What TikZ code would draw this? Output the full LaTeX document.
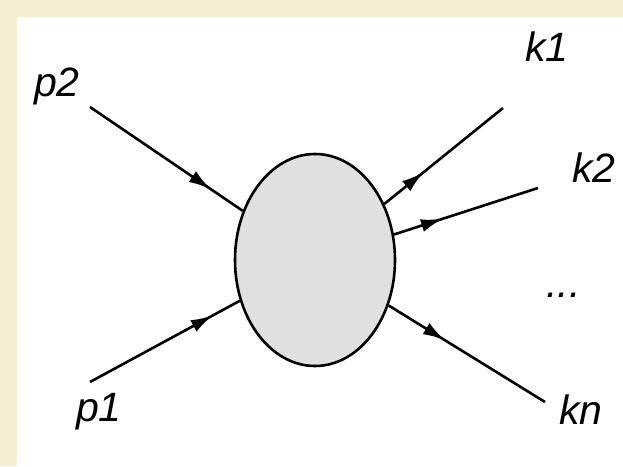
\documentclass[tikz,border=0pt]{standalone}
\usepackage{fontspec}
\setmainfont{Liberation Sans}
\usetikzlibrary{shapes.geometric,arrows.meta,decorations.markings}
\definecolor{slidebg}{RGB}{244,238,210}
\definecolor{blobfill}{RGB}{224,224,224}
\tikzset{
  leg/.style={line width=2.6pt},
  midarrow/.style={postaction={decorate},decoration={markings,
    mark=at position #1 with {\arrow{Latex[length=22pt,width=13pt]}}}},
  lbl/.style={font=\fontsize{41}{46}\selectfont\itshape,inner sep=0pt,anchor=base west},
}
\begin{document}
\begin{tikzpicture}[x=1pt,y=-1pt]
  % slide background and white panel
  \fill[slidebg] (0,0) rectangle (623,466);
  \fill[white] (17,17) rectangle (623,466);
  \useasboundingbox (0,0) rectangle (623,466);

  % interaction blob
  \node[ellipse,draw,line width=2.6pt,fill=blobfill,minimum width=160pt,
        minimum height=212pt,inner sep=0pt] (blob) at (315,260) {};

  % free ends of the external legs
  \coordinate (p2end) at (90,107);
  \coordinate (p1end) at (90,382);
  \coordinate (k1end) at (503,108);
  \coordinate (k2end) at (538,188);
  \coordinate (knend) at (545,402);

  % incoming legs
  \draw[leg,midarrow=0.79] (p2end) -- (blob);
  \draw[leg,midarrow=0.82] (p1end) -- (blob);
  % outgoing legs
  \draw[leg,midarrow=0.33] (blob) -- (k1end);
  \draw[leg,midarrow=0.34] (blob) -- (k2end);
  \draw[leg,midarrow=0.36] (blob) -- (knend);

  % momentum labels
  \node[lbl] (lp2) at (34,96) {p2};
  \node[lbl] (lp1) at (76,421) {p1};
  \node[lbl] (lk1) at (525,61) {k1};
  \node[lbl] (lk2) at (572,182) {k2};
  \node[lbl] (ldots) at (546,297) {...};
  \node[lbl] (lkn) at (559,424) {kn};
\end{tikzpicture}
\end{document}
